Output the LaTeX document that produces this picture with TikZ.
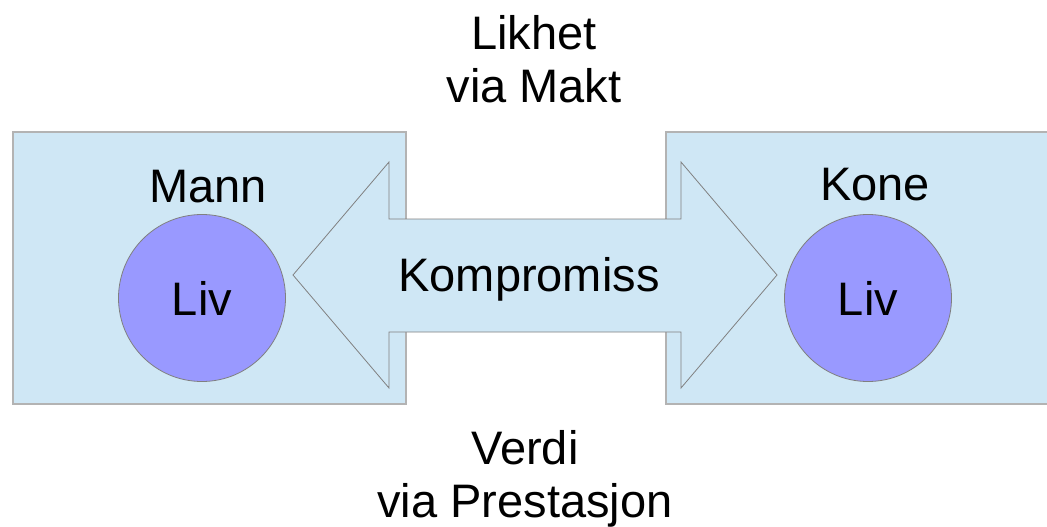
\documentclass[tikz,border=0pt]{standalone}
\usepackage{fontspec}
\setmainfont{Liberation Sans}
\usetikzlibrary{calc}
\definecolor{boxblue}{HTML}{CFE7F5}
\definecolor{livblue}{HTML}{9999FF}
\definecolor{edgegray}{HTML}{B3B3B3}
\definecolor{linegray}{HTML}{808080}
\newcommand{\rad}{83.5}
\tikzset{
  liv/.style={circle,draw=linegray,fill=livblue,line width=0.8pt,minimum size=2*\rad pt,inner sep=0pt},
  label/.style={anchor=base,inner sep=0pt}
}

\begin{document}
\begin{tikzpicture}[x=1pt,y=-1pt,font={\fontsize{47}{53}\selectfont}]
\useasboundingbox (0,0) rectangle (1047,527);
\coordinate (l1) at (13,132);
\coordinate (l2) at (406,404);
\coordinate (r1) at (666,132);
\coordinate (r2) at (1052,404);
\coordinate (tl) at (293,275);
\coordinate (tr) at (777,275);
\filldraw[fill=boxblue,draw=edgegray,line width=1.5pt] (l1) rectangle (l2);
\filldraw[fill=boxblue,draw=edgegray,line width=1.5pt] (r1) rectangle (r2);
\filldraw[fill=boxblue,draw=linegray,line width=0.8pt] (tl) -- ++(96,-113) -- ++(0,57) -- ++(292,0) -- ++(0,-57)
  -- (tr) -- ++(-96,113) -- ++(0,-56) -- ++(-292,0) -- ++(0,56) -- cycle;
\foreach \c/\n in {202/livm,868/livk}{
\node[liv] (\n) at (\c,298) {Liv};
}
\node[label] (mann) at (208,202) {Mann};
\node[label] (kone) at (875,200) {Kone};
\node[label] (kompromiss) at (529,291) {Kompromiss};
\node[anchor=north,align=center,inner sep=0pt] (likhet) at (534,15.4) {Likhet\\via Makt};
\node[anchor=north,align=center,inner sep=0pt] (verdi) at (525,430.4) {Verdi\\via Prestasjon};
\end{tikzpicture}
\end{document}
